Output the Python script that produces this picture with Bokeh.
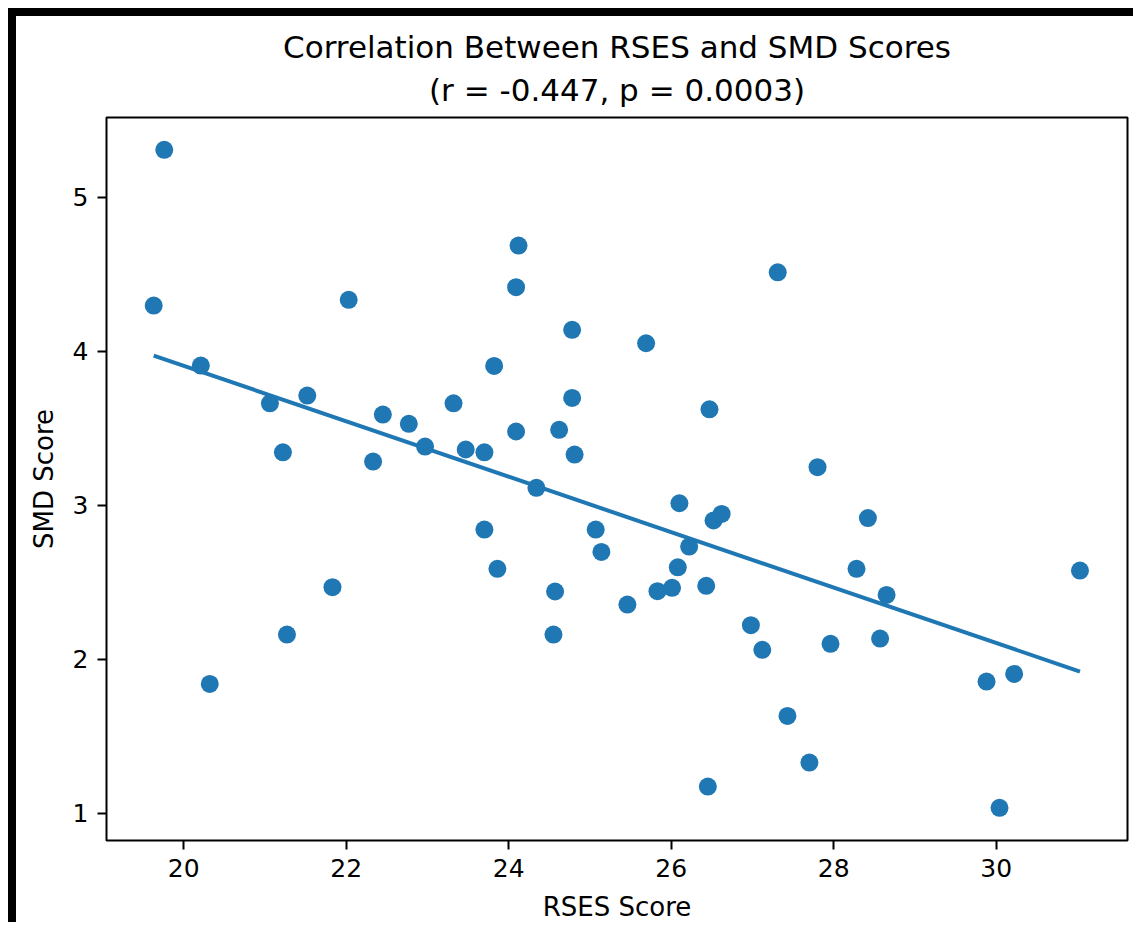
from bokeh.plotting import figure
from bokeh.models import Range1d, FixedTicker, Title
from bokeh.embed import file_html
from bokeh.resources import INLINE

# ---- data ----
rses = [19.76, 19.63, 20.21, 20.32, 21.06, 21.22, 21.27, 21.52, 21.83, 22.03,
        22.33, 22.45, 22.77, 22.97, 23.32, 23.47, 23.70, 23.70, 23.82, 23.86,
        24.12, 24.09, 24.09, 24.34, 24.78, 24.78, 24.81, 24.62, 24.57, 24.55,
        25.07, 25.14, 25.46, 25.69, 25.83, 26.01, 26.08, 26.10, 26.22, 26.43,
        26.47, 26.52, 26.62, 26.45, 26.98, 27.12, 27.31, 27.43, 27.70, 27.80,
        27.96, 28.28, 28.42, 28.57, 28.65, 29.88, 30.04, 30.22, 31.03]
smd = [5.308, 4.297, 3.907, 1.840, 3.662, 3.344, 2.160, 3.712, 2.468, 4.334,
       3.284, 3.589, 3.529, 3.381, 3.662, 3.362, 3.344, 2.842, 3.905, 2.587,
       4.686, 4.416, 3.479, 3.113, 4.139, 3.697, 3.329, 3.490, 2.440, 2.160,
       2.842, 2.697, 2.355, 4.052, 2.442, 2.464, 2.597, 3.013, 2.732, 2.477,
       3.623, 2.901, 2.944, 1.173, 2.221, 2.061, 4.513, 1.632, 1.329, 3.247,
       2.100, 2.587, 2.917, 2.134, 2.418, 1.855, 1.035, 1.905, 2.576]
fit_x = [19.63, 31.03]
fit_y = [3.972, 1.920]
x_ticks = [20, 22, 24, 26, 28, 30]
y_ticks = [1, 2, 3, 4, 5]
title_line1 = "Correlation Between RSES and SMD Scores"
title_line2 = "(r = -0.447, p = 0.0003)"
x_label = "RSES Score"
y_label = "SMD Score"

BLUE = "#1f77b4"
FONT = "DejaVu Sans"

p = figure(width=1125, height=914, output_backend="svg", toolbar_location=None,
           x_range=Range1d(19.049, 31.615), y_range=Range1d(0.823, 5.518),
           min_border_left=90, min_border_right=14, min_border_top=101,
           min_border_bottom=90)

p.title.text = title_line1
p.title.align = "center"
p.title.text_font = FONT
p.title.text_font_size = "31px"
p.title.text_font_style = "normal"
p.title.text_color = "black"
try:
    p.title.standoff = -11
except Exception:
    p.title.standoff = 0

sub = Title(text=title_line2, align="center", text_font=FONT, text_font_size="31px",
            text_font_style="normal", text_color="black", standoff=20)
p.add_layout(sub, "above")

p.grid.visible = False
p.background_fill_color = "white"
p.border_fill_color = "white"
p.outline_line_color = "black"
p.outline_line_width = 2

for ax in (p.xaxis[0], p.yaxis[0]):
    ax.axis_line_color = None
    ax.major_tick_line_color = "black"
    ax.major_tick_line_width = 2
    ax.major_tick_out = 9
    ax.major_tick_in = 0
    ax.minor_tick_line_color = None
    ax.major_label_text_font = FONT
    ax.major_label_text_font_size = "25px"
    ax.major_label_text_color = "black"
    ax.major_label_standoff = 9
    ax.axis_label_text_font = FONT
    ax.axis_label_text_font_size = "26px"
    ax.axis_label_text_font_style = "normal"
    ax.axis_label_text_color = "black"

p.xaxis[0].ticker = FixedTicker(ticks=x_ticks)
p.yaxis[0].ticker = FixedTicker(ticks=y_ticks)
p.xaxis[0].axis_label = x_label
p.yaxis[0].axis_label = y_label
p.xaxis[0].axis_label_standoff = 12
p.yaxis[0].axis_label_standoff = 11

p.scatter(rses, smd, size=18, fill_color=BLUE, line_color=BLUE, line_width=0)
p.line(fit_x, fit_y, line_color=BLUE, line_width=4)

p.styles = {"border-left": "8px solid black", "border-top": "8px solid black",
            "margin-left": "8px", "margin-top": "8px"}

open("out.html", "w").write(file_html(p, INLINE))
